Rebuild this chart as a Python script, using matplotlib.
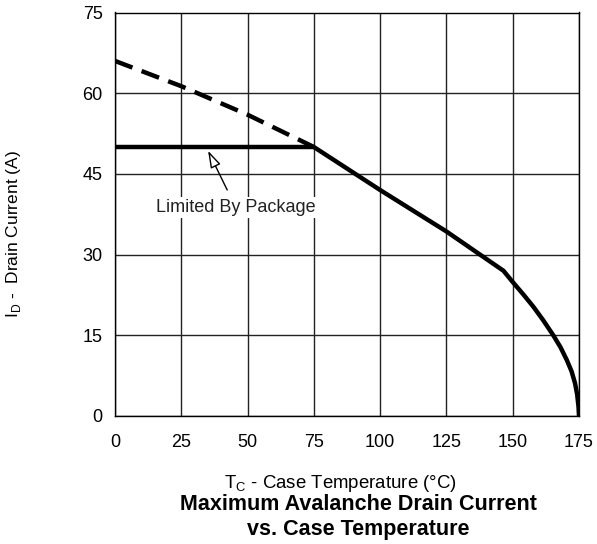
import matplotlib
matplotlib.use("Agg")
import matplotlib.pyplot as plt

plt.rcParams['font.family'] = ['Liberation Sans', 'DejaVu Sans']
plt.rcParams['mathtext.fontset'] = 'custom'
plt.rcParams['mathtext.rm'] = 'Liberation Sans'

# package-limited current
pkg_temp = [0, 75]
pkg_current = [50, 50]

# silicon-limited current above the package limit (dashed)
si_temp = [0, 25, 50, 75]
si_current = [66, 61.3, 56, 50]

# derating curve
derate_temp = [75, 100, 125, 146.5, 150, 154, 157.8, 161.5, 165.3, 168, 170.4, 172.2,
               173.5, 174.3, 174.8, 175]
derate_current = [50, 42, 34.3, 27, 24.9, 22.6, 20.3, 17.8, 15, 12.8, 10.4, 8.3,
                  6.1, 4, 1.8, 0]

x_ticks = [0, 25, 50, 75, 100, 125, 150, 175]
y_ticks = [0, 15, 30, 45, 60, 75]

W, H = 597, 544
fig = plt.figure(figsize=(W / 100, H / 100), dpi=100)
ax = fig.add_axes([115 / W, 1 - 416 / H, 464 / W, 403.5 / H])

ax.plot(pkg_temp, pkg_current, color='black', lw=3.2, solid_capstyle='butt', zorder=3)
ax.plot(si_temp, si_current, color='black', lw=3.2, dashes=(4.2, 2.2), zorder=3)
ax.plot(derate_temp, derate_current, color='black', lw=3.2, solid_joinstyle='round',
        solid_capstyle='butt', zorder=3)

ax.set_xlim(0, 175)
ax.set_ylim(0, 75)
ax.set_xticks(x_ticks)
ax.set_yticks(y_ticks)
ax.tick_params(length=0, labelsize=13)
ax.tick_params(axis='x', pad=13)
ax.tick_params(axis='y', pad=9)
ax.grid(True, color='#222222', lw=1)
for s in ax.spines.values():
    s.set_linewidth(1)

ax.annotate('Limited By Package', xy=(35.1, 49.3), xytext=(45.6, 38.7),
            ha='center', va='center', fontsize=13, color='#222222',
            bbox=dict(boxstyle='square,pad=0.1', fc='white', ec='none'),
            arrowprops=dict(arrowstyle='-|>,head_length=0.8,head_width=0.25',
                            fc='white', ec='black', lw=1, shrinkA=6, shrinkB=0),
            zorder=4)

fig.text(14 / W, 1 - 234 / H, r'I$_\mathregular{D}$ -  Drain Current (A)',
         rotation=90, ha='center', va='center', fontsize=12.5)
fig.text(340 / W, 1 - 483 / H, r'T$_\mathregular{C}$ - Case Temperature (°C)',
         ha='center', va='center', fontsize=13.4)
fig.text(358 / W, 1 - 505 / H, 'Maximum Avalanche Drain Current',
         ha='center', va='center', fontsize=15.5, fontweight='bold')
fig.text(358 / W, 1 - 530 / H, 'vs. Case Temperature',
         ha='center', va='center', fontsize=15.5, fontweight='bold')

fig.savefig('out.png', dpi=100)
